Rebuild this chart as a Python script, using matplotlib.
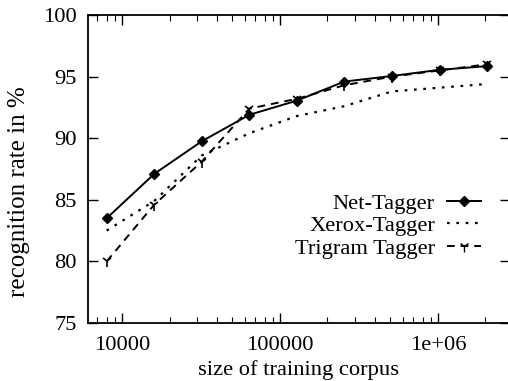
import matplotlib
matplotlib.use("Agg")
import matplotlib.pyplot as plt
from matplotlib.ticker import FixedLocator, NullFormatter, LogLocator
from matplotlib.lines import Line2D

plt.rcParams['font.family'] = ['Liberation Serif', 'DejaVu Serif']

corpus_size = [8000, 16000, 32000, 64000, 128000, 256000, 512000, 1024000, 2048000]
net_tagger = [83.5, 87.1, 89.75, 91.9, 93.05, 94.6, 95.05, 95.55, 95.85]
xerox_tagger = [82.5, 84.9, 88.6, 90.4, 91.8, 92.6, 93.8, 94.1, 94.4]
trigram_tagger = [80.0, 84.6, 88.1, 92.4, 93.2, 94.3, 95.0, 95.5, 96.0]
series_labels = ["Net-Tagger", "Xerox-Tagger", "Trigram Tagger"]
x_ticks = [10000, 100000, 1000000]
x_ticklabels = ["10000", "100000", "1e+06"]
y_ticks = [75, 80, 85, 90, 95, 100]

W, H = 508, 381
fig = plt.figure(figsize=(W / 100, H / 100), dpi=100)
L, R, T, B = 88, 510, 15, 323
ax = fig.add_axes([L / W, 1 - B / H, (R - L) / W, (B - T) / H])

fs = 16.2
ax.plot(corpus_size, net_tagger, color='black', lw=1.4, ls='-',
        marker='D', ms=5.5, mfc='black', mec='black')
ax.plot(corpus_size, xerox_tagger, color='black', lw=1.6, ls=(0, (1.2, 3.0)))
ax.plot(corpus_size, trigram_tagger, color='black', lw=1.4, ls=(0, (4, 3)),
        marker='1', ms=8, mew=1.2)

ax.set_xscale('log')
ax.set_xlim(6095, 2.86e6)
ax.set_ylim(75, 100)
ax.xaxis.set_major_locator(FixedLocator(x_ticks))
ax.set_xticklabels(x_ticklabels)
ax.xaxis.set_minor_locator(LogLocator(base=10, subs=range(2, 10)))
ax.xaxis.set_minor_formatter(NullFormatter())
ax.set_yticks(y_ticks)
ax.tick_params(axis='x', which='major', pad=9)
ax.tick_params(axis='y', which='major', pad=8)
ax.tick_params(axis='both', which='major', direction='in', length=7, width=1,
               top=True, right=True, labelsize=fs)
ax.tick_params(axis='both', which='minor', direction='in', length=4, width=0.8,
               top=True, right=True)
for s in ax.spines.values():
    s.set_linewidth(1.3)

ax.set_xlabel("size of training corpus", fontsize=fs, labelpad=4)
fig.text(19 / W, 1 - 192 / H, "recognition rate in %", rotation=90,
         fontsize=18, ha='center', va='center')

handles = [
    Line2D([], [], color='black', lw=1.4, marker='D', ms=5.5),
    Line2D([], [], color='black', lw=1.6, ls=(0, (1.2, 3.0))),
    Line2D([], [], color='black', lw=1.4, ls=(0, (4, 3)), marker='1', ms=8),
]
leg = ax.legend(handles, series_labels, loc='upper right', markerfirst=False,
                frameon=False, fontsize=fs, handlelength=1.5, handletextpad=0.55,
                labelspacing=0.08, borderpad=0, borderaxespad=0,
                bbox_to_anchor=(481 / W, 1 - 193 / H), bbox_transform=fig.transFigure)

fig.savefig("out.png", dpi=100)
